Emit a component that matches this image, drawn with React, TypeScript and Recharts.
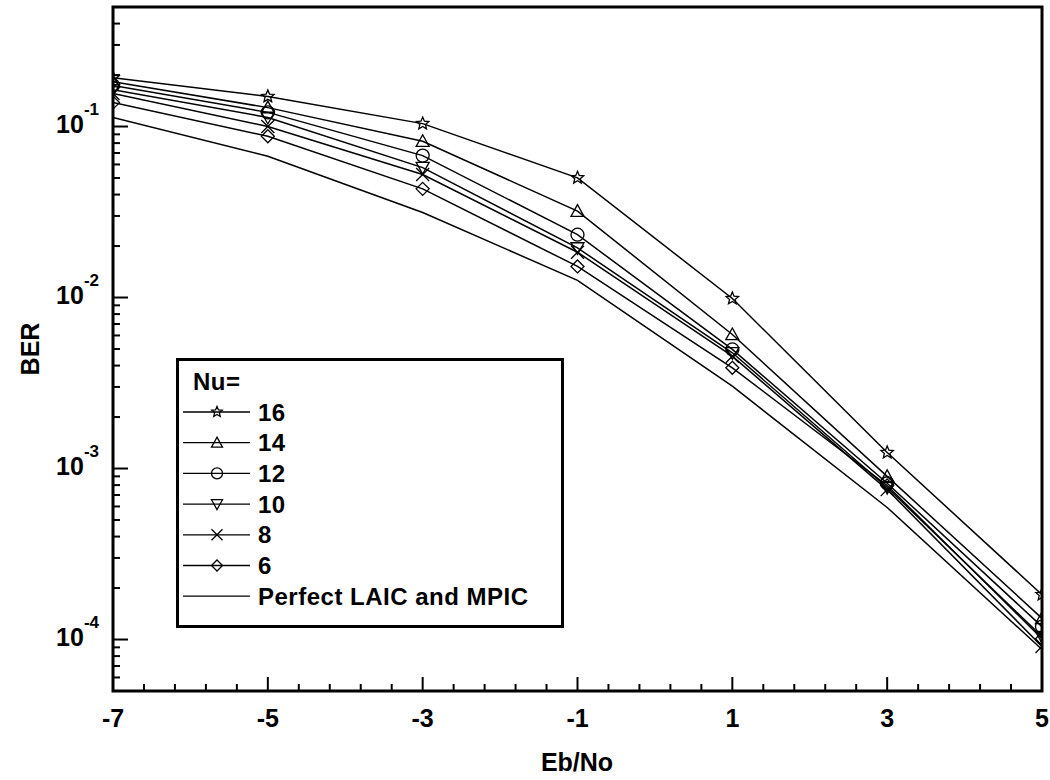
import React from 'react';
import { LineChart, Line, XAxis, YAxis, Legend, ReferenceArea } from 'recharts';

// Eb/No (dB) and BER per number of users
const ebNo = [-7, -5, -3, -1, 1, 3, 5];
const ber16 = [0.193, 0.150, 0.104, 0.0501, 0.00987, 0.00124, 0.000183];
const ber14 = [0.183, 0.129, 0.082, 0.032, 0.00608, 0.00090, 0.000133];
const ber12 = [0.174, 0.121, 0.0676, 0.0233, 0.00497, 0.00082, 0.000119];
const ber10 = [0.164, 0.113, 0.0575, 0.0195, 0.00475, 0.000774, 0.000104];
const ber8 = [0.156, 0.100, 0.0524, 0.0184, 0.00454, 0.000753, 0.0000911];
const ber6 = [0.138, 0.0877, 0.0432, 0.0152, 0.00388, 0.000796, 0.000101];
const berPerfect = [0.113, 0.067, 0.0314, 0.0126, 0.00303, 0.000592, 0.0000875];

const userLabels = ['16', '14', '12', '10', '8', '6'];
const markerShapes = ['star', 'triangle', 'circle', 'down', 'cross', 'diamond'];
const perfectLabel = 'Perfect LAIC and MPIC';
const legendTitle = 'Nu=';
const xMajorTicks = [-7, -5, -3, -1, 1, 3, 5];
const yMajorExponents = [-4, -3, -2, -1];

const FONT = '"Liberation Sans", Arial, sans-serif';
const PLOT_LEFT = 113;
const PLOT_BOTTOM = 691;

const allSeries = [ber16, ber14, ber12, ber10, ber8, ber6];
const data = ebNo.map((x, i) => {
  const row: Record<string, number> = { x, perfect: berPerfect[i] };
  userLabels.forEach((lab, k) => { row['nu' + lab] = allSeries[k][i]; });
  return row;
});

// x ticks every 0.4 between labelled values
const xTicks: number[] = [];
for (let i = 0; i <= 30; i++) xTicks.push(Math.round((-7 + 0.4 * i) * 10) / 10);

const yTicks: number[] = [];
for (let m = 6; m <= 9; m++) yTicks.push(m * 1e-5);
yMajorExponents.forEach((e) => {
  for (let m = 1; m <= 9; m++) {
    const v = m * Math.pow(10, e);
    if (v < 0.45) yTicks.push(v);
  }
});

const Marker = ({ shape, cx, cy, s = 6.5 }: { shape: string; cx: number; cy: number; s?: number }) => {
  const common = { fill: 'none', stroke: '#000', strokeWidth: 1.3 };
  if (shape === 'circle') return <circle cx={cx} cy={cy} r={s} {...common} />;
  if (shape === 'triangle')
    return <polygon points={`${cx},${cy - s} ${cx - s},${cy + s * 0.8} ${cx + s},${cy + s * 0.8}`} {...common} />;
  if (shape === 'down')
    return <polygon points={`${cx},${cy + s} ${cx - s},${cy - s * 0.8} ${cx + s},${cy - s * 0.8}`} {...common} />;
  if (shape === 'diamond')
    return <polygon points={`${cx},${cy - s} ${cx + s},${cy} ${cx},${cy + s} ${cx - s},${cy}`} {...common} />;
  if (shape === 'cross')
    return (
      <path d={`M${cx - s},${cy - s}L${cx + s},${cy + s}M${cx - s},${cy + s}L${cx + s},${cy - s}`} {...common} />
    );
  // star
  const pts: string[] = [];
  for (let i = 0; i < 10; i++) {
    const r = i % 2 === 0 ? s : s * 0.45;
    const a = -Math.PI / 2 + (i * Math.PI) / 5;
    pts.push(`${cx + r * Math.cos(a)},${cy + r * Math.sin(a)}`);
  }
  return <polygon points={pts.join(' ')} {...common} />;
};

const XTick = (props: any) => {
  const { x, payload } = props;
  const v = payload.value;
  const major = xMajorTicks.includes(v);
  return (
    <g>
      <line x1={x} x2={x} y1={PLOT_BOTTOM} y2={PLOT_BOTTOM - (major ? 14 : 7)} stroke="#000" strokeWidth={2} />
      {major && (
        <text x={x} y={PLOT_BOTTOM + 36} textAnchor="middle" fontFamily={FONT} fontWeight="bold" fontSize={25} fill="#000">
          {v}
        </text>
      )}
    </g>
  );
};

const YTick = (props: any) => {
  const { y, payload } = props;
  const v = payload.value;
  const exp = Math.round(Math.log10(v));
  const major = Math.abs(Math.log10(v) - exp) < 1e-6;
  return (
    <g>
      <line x1={PLOT_LEFT} x2={PLOT_LEFT + (major ? 15 : 7)} y1={y} y2={y} stroke="#000" strokeWidth={2} />
      {major && (
        <text x={99} y={y + 6} textAnchor="end" fontFamily={FONT} fontWeight="bold" fontSize={25} fill="#000">
          <tspan>10</tspan>
          <tspan dy={-18} fontSize={17}>{String(exp)}</tspan>
        </text>
      )}
    </g>
  );
};

const renderLegend = () => {
  const rowY = (i: number) => 54 + i * 30.7;
  const txt = { fontFamily: FONT, fontWeight: 'bold', fontSize: 24, letterSpacing: 0.5, fill: '#000' } as const;
  return (
    <svg width={388} height={271} style={{ display: 'block' }}>
      <rect x={1.5} y={1.5} width={385} height={267} fill="#fff" stroke="#000" strokeWidth={3} />
      <text x={17} y={32} {...txt}>{legendTitle}</text>
      {userLabels.map((lab, i) => (
        <g key={lab}>
          <line x1={7} x2={74} y1={rowY(i)} y2={rowY(i)} stroke="#000" strokeWidth={1.3} />
          <Marker shape={markerShapes[i]} cx={41} cy={rowY(i)} s={5.5} />
          <text x={82} y={rowY(i) + 8.5} {...txt}>{lab}</text>
        </g>
      ))}
      <line x1={7} x2={74} y1={rowY(6)} y2={rowY(6)} stroke="#000" strokeWidth={1.3} />
      <text x={82} y={rowY(6) + 8.5} {...txt}>{perfectLabel}</text>
    </svg>
  );
};

export default function App() {
  return (
    <div style={{ position: 'absolute', left: 0, top: 0, width: 1050, height: 780, background: '#fff' }}>
      <LineChart width={1050} height={780} data={data} margin={{ top: 7, right: 8, bottom: 49, left: 53 }}>
        <XAxis
          dataKey="x"
          type="number"
          domain={[-7, 5]}
          ticks={xTicks}
          interval={0}
          tick={<XTick />}
          tickLine={false}
          axisLine={false}
          height={40}
          allowDataOverflow
        />
        <YAxis
          type="number"
          scale="log"
          domain={[5e-5, 0.5]}
          ticks={yTicks}
          interval={0}
          tick={<YTick />}
          tickLine={false}
          axisLine={false}
          width={60}
          allowDataOverflow
        />
        <ReferenceArea x1={-7} x2={5} y1={5e-5} y2={0.5} fill="none" stroke="#000" strokeWidth={3} ifOverflow="visible" />
        <Line
          dataKey="perfect"
          type="linear"
          stroke="#000"
          strokeWidth={1.5}
          dot={false}
          isAnimationActive={false}
        />
        {userLabels.map((lab, k) => (
          <Line
            key={lab}
            dataKey={'nu' + lab}
            type="linear"
            stroke="#000"
            strokeWidth={1.5}
            isAnimationActive={false}
            dot={(p: any) => <Marker key={`${lab}-${p.index}`} shape={markerShapes[k]} cx={p.cx} cy={p.cy} />}
          />
        ))}
        <Legend
          layout="vertical"
          align="center"
          verticalAlign="middle"
          content={renderLegend}
          wrapperStyle={{ position: 'absolute', left: 176, top: 358, width: 388, height: 271 }}
        />
      </LineChart>
      <div
        style={{
          position: 'absolute',
          left: 577,
          top: 762,
          transform: 'translate(-50%, -50%)',
          fontFamily: FONT,
          fontWeight: 'bold',
          fontSize: 25,
          whiteSpace: 'nowrap',
        }}
      >
        Eb/No
      </div>
      <div
        style={{
          position: 'absolute',
          left: 30,
          top: 349,
          transform: 'translate(-50%, -50%) rotate(-90deg)',
          fontFamily: FONT,
          fontWeight: 'bold',
          fontSize: 25,
          whiteSpace: 'nowrap',
        }}
      >
        BER
      </div>
    </div>
  );
}
